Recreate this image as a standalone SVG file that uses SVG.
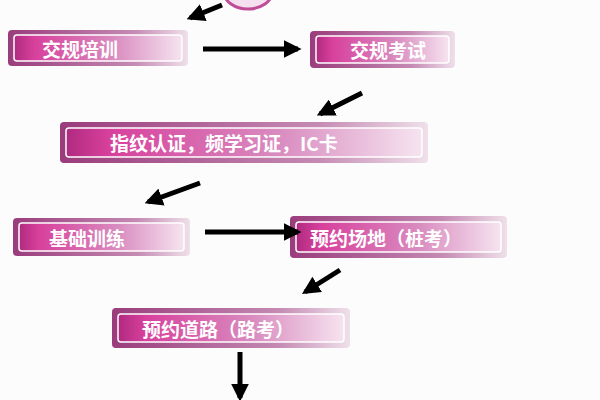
<svg xmlns="http://www.w3.org/2000/svg" width="600" height="400" viewBox="0 0 600 400">
<defs>
<linearGradient id="g" x1="0" y1="0" x2="1" y2="0">
<stop offset="0" stop-color="#b02a80"/><stop offset="0.12" stop-color="#d7409c"/><stop offset="0.6" stop-color="#d98cc0"/><stop offset="1" stop-color="#f6e4f0"/>
</linearGradient>
<linearGradient id="o" x1="0" y1="0" x2="1" y2="0">
<stop offset="0" stop-color="#9a3c7c"/><stop offset="0.7" stop-color="#c58ab3"/><stop offset="1" stop-color="#efe0ea"/>
</linearGradient>
<marker id="a" viewBox="0 0 10 10" refX="8" refY="5" markerWidth="3.6" markerHeight="3.6" orient="auto"><path d="M0,0L10,5L0,10z" fill="#000"/></marker>
<style>
.b{fill:url(#o)}
.i{fill:url(#g);stroke:#fff;stroke-width:1.5}
text{font-family:"Noto Sans CJK SC","Noto Sans",sans-serif;font-weight:bold;font-size:19px;fill:#fff;dominant-baseline:central}
.c{stroke:#000;stroke-width:5;fill:none;marker-end:url(#a)}
</style>
</defs>
<rect width="600" height="400" fill="#fcfcfd"/>
<g id="start"><ellipse cx="248" cy="-8" rx="24" ry="17" fill="#f4e0ee" stroke="#c04c98" stroke-width="3"/></g>
<g id="n1"><rect class="b" x="8" y="30" width="180" height="36" rx="4"/><rect class="i" x="14" y="35" width="168" height="26" rx="3"/><text x="42" y="48">交规培训</text></g>
<g id="n2"><rect class="b" x="310" y="31" width="145" height="37" rx="4"/><rect class="i" x="316" y="36" width="133" height="27" rx="3"/><text x="350" y="49">交规考试</text></g>
<g id="n3"><rect class="b" x="60" y="122" width="368" height="41" rx="4"/><rect class="i" x="66" y="128" width="356" height="29" rx="3"/><text x="110" y="142">指纹认证，频学习证，IC卡</text></g>
<g id="n4"><rect class="b" x="13" y="218" width="177" height="38" rx="4"/><rect class="i" x="19" y="223" width="165" height="28" rx="3"/><text x="49" y="237">基础训练</text></g>
<g id="n5"><rect class="b" x="290" y="216" width="217" height="42" rx="4"/><rect class="i" x="296" y="222" width="205" height="30" rx="3"/><text x="310" y="237">预约场地（桩考）</text></g>
<g id="n6"><rect class="b" x="112" y="308" width="238" height="40" rx="4"/><rect class="i" x="118" y="314" width="226" height="28" rx="3"/><text x="142" y="328">预约道路（路考）</text></g>
<g id="connectors">
<path class="c" d="M222,5L190,18"/>
<path class="c" d="M203,49L298,49"/>
<path class="c" d="M362,93L320,114"/>
<path class="c" d="M200,183L148,202"/>
<path class="c" d="M205,232L298,232"/>
<path class="c" d="M340,270L305,292"/>
<path class="c" d="M240,352L240,398"/>
</g>
</svg>
